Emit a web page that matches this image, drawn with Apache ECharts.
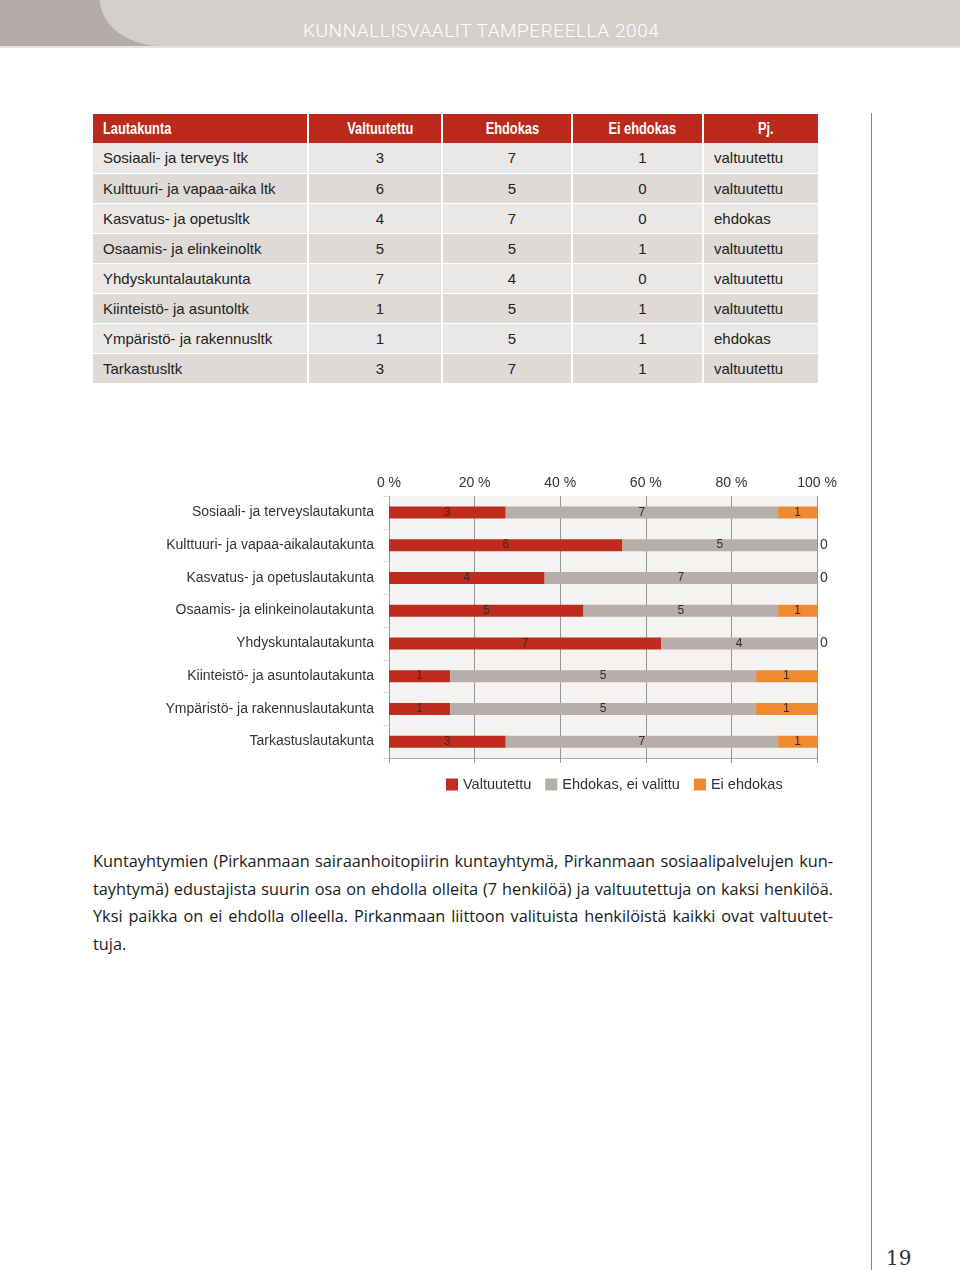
<!DOCTYPE html>
<html>
<head>
<meta charset="utf-8">
<script src="https://cdn.jsdelivr.net/npm/echarts@6/dist/echarts.min.js"></script>
<style>
  html, body { margin: 0; padding: 0; background: #fff; }
  body { width: 960px; height: 1270px; position: relative; overflow: hidden; font-family: "Liberation Sans", Arial, sans-serif; }
  #hdr { position: absolute; left: 0; top: 0; width: 960px; height: 46px; background: #b4aca8; }
  #hdr .light { position: absolute; left: 100px; right: 0; top: 0; height: 46px; background: #d3cfcc; border-bottom-left-radius: 62px 46px; }
  #hdr .line { position: absolute; left: 0; right: 0; top: 46px; height: 2px; background: #e6e3e1; }
  #title { position: absolute; left: 303px; top: 19px; color: #fff; font-family: Roboto, sans-serif; font-weight: 300; font-size: 19px; letter-spacing: 0.55px; white-space: nowrap; }
  #tbl { position: absolute; left: 93px; top: 114px; border-collapse: collapse; table-layout: fixed; }
  #tbl td, #tbl th { padding: 0; height: 30px; font-size: 15px; color: #222; border: 1px solid #fff; border-width: 0 2px 1px 0; box-sizing: border-box; }
  #tbl th { background: #bb2a1d; color: #fff; height: 29px; font-weight: bold; font-size: 16px; border-width: 0 2px 0 0; }
  #tbl th span { display: inline-block; transform: scaleX(0.8); }
  #tbl th.name span { transform-origin: left center; }
  #tbl th.pjh span { transform-origin: right center; }
  #tbl tr.odd td { background: #eae8e6; }
  #tbl tr.even td { background: #dddad7; }
  #tbl .name { text-align: left; padding-left: 10px; }
  #tbl .num { text-align: center; padding-left: 10px; }
  #tbl .pj { text-align: left; padding-left: 10px; }
  #tbl th.pjh { text-align: right; padding-right: 44px; }
  #chart { position: absolute; left: 0; top: 460px; width: 960px; height: 350px; }
  #para { position: absolute; left: 93px; top: 848px; width: 740px; font-family: "Open Sans", "Noto Sans", sans-serif; font-size: 16.3px; line-height: 27.5px; color: #1a1a1a; }
  #para div { white-space: nowrap; text-align: justify; text-align-last: justify; }
  #para div.last { text-align-last: left; }
  #vline { position: absolute; left: 871px; top: 113px; width: 1px; height: 1157px; background: #d8625a; }
  #pnum { position: absolute; left: 886px; top: 1246px; font-family: "DejaVu Serif", "Liberation Serif", serif; font-size: 20px; color: #333; }
</style>
</head>
<body>
<div id="hdr"><div class="light"></div><div class="line"></div></div>
<div id="title">KUNNALLISVAALIT TAMPEREELLA 2004</div>
<table id="tbl"></table>
<div id="chart"></div>
<div id="para">
  <div>Kuntayhtymien (Pirkanmaan sairaanhoitopiirin kuntayhtymä, Pirkanmaan sosiaalipalvelujen kun-</div>
  <div>tayhtymä) edustajista suurin osa on ehdolla olleita (7 henkilöä) ja valtuutettuja on kaksi henkilöä.</div>
  <div>Yksi paikka on ei ehdolla olleella. Pirkanmaan liittoon valituista henkilöistä kaikki ovat valtuutet-</div>
  <div class="last">tuja.</div>
</div>
<div id="vline"></div>
<div id="pnum">19</div>
<script>
// ---- data ----
const tableHeaders = ['Lautakunta', 'Valtuutettu', 'Ehdokas', 'Ei ehdokas', 'Pj.'];
const tableNames = ['Sosiaali- ja terveys ltk', 'Kulttuuri- ja vapaa-aika ltk', 'Kasvatus- ja opetusltk', 'Osaamis- ja elinkeinoltk', 'Yhdyskuntalautakunta', 'Kiinteistö- ja asuntoltk', 'Ympäristö- ja rakennusltk', 'Tarkastusltk'];
const categories = ['Sosiaali- ja terveyslautakunta', 'Kulttuuri- ja vapaa-aikalautakunta', 'Kasvatus- ja opetuslautakunta', 'Osaamis- ja elinkeinolautakunta', 'Yhdyskuntalautakunta', 'Kiinteistö- ja asuntolautakunta', 'Ympäristö- ja rakennuslautakunta', 'Tarkastuslautakunta'];
const valtuutettu = [3, 6, 4, 5, 7, 1, 1, 3];
const ehdokas = [7, 5, 7, 5, 4, 5, 5, 7];
const eiEhdokas = [1, 0, 0, 1, 0, 1, 1, 1];
const pj = ['valtuutettu', 'valtuutettu', 'ehdokas', 'valtuutettu', 'valtuutettu', 'valtuutettu', 'ehdokas', 'valtuutettu'];
const seriesNames = ['Valtuutettu', 'Ehdokas, ei valittu', 'Ei ehdokas'];

// ---- table ----
const colWidths = [215, 134, 130, 131, 116];
const tbl = document.getElementById('tbl');
let html = '<colgroup>' + colWidths.map(w => '<col style="width:' + w + 'px">').join('') + '</colgroup>';
html += '<tr>' + tableHeaders.map((h, i) => {
  const cls = i === 0 ? 'name' : (i === 4 ? 'pjh' : 'num');
  return '<th class="' + cls + '"><span>' + h + '</span></th>';
}).join('') + '</tr>';
tableNames.forEach((n, i) => {
  html += '<tr class="' + (i % 2 === 0 ? 'odd' : 'even') + '">' +
    '<td class="name">' + n + '</td>' +
    '<td class="num">' + valtuutettu[i] + '</td>' +
    '<td class="num">' + ehdokas[i] + '</td>' +
    '<td class="num">' + eiEhdokas[i] + '</td>' +
    '<td class="pj">' + pj[i] + '</td></tr>';
});
tbl.innerHTML = html;

// ---- chart ----
const counts = [valtuutettu, ehdokas, eiEhdokas];
const totals = categories.map((c, i) => valtuutettu[i] + ehdokas[i] + eiEhdokas[i]);
const colors = ['#bf2b1c', '#b6aeaa', '#ee8a2f'];

const chart = echarts.init(document.getElementById('chart'), null, { renderer: 'canvas' });
const series = counts.map((arr, s) => ({
  name: seriesNames[s],
  type: 'bar',
  stack: 'total',
  barWidth: 12,
  itemStyle: { color: colors[s] },
  label: {
    show: true,
    position: 'inside',
    color: '#3b2b26',
    fontSize: 12,
    fontFamily: 'Liberation Sans',
    formatter: p => String(arr[p.dataIndex])
  },
  data: arr.map((v, i) => {
    const pct = v / totals[i] * 100;
    if (v === 0) {
      return { value: pct, label: { position: 'right', distance: 3, fontSize: 14, color: '#333' } };
    }
    return pct;
  })
}));

chart.setOption({
  animation: false,
  textStyle: { fontFamily: 'Liberation Sans' },
  legend: {
    data: seriesNames,
    left: 441,
    top: 312,
    icon: 'rect',
    itemWidth: 12,
    itemHeight: 12,
    itemGap: 14,
    textStyle: { fontSize: 14.5, color: '#333', fontFamily: 'Liberation Sans' }
  },
  grid: {
    left: 389, right: 143, top: 36, height: 262,
    show: true, backgroundColor: '#f4f3f2', borderWidth: 0
  },
  xAxis: [{
    type: 'value', position: 'top', min: 0, max: 100, interval: 20,
    axisLabel: { formatter: v => v + ' %', fontSize: 14, color: '#333', margin: 6 },
    axisLine: { show: false }, axisTick: { show: false },
    splitLine: { show: true, lineStyle: { color: '#949494', width: 1 } }
  }, {
    type: 'value', position: 'bottom', min: 0, max: 100, interval: 20,
    axisLabel: { show: false },
    axisLine: { show: true, lineStyle: { color: '#aaa' } },
    axisTick: { show: true, length: 5, lineStyle: { color: '#949494' } },
    splitLine: { show: false }
  }],
  yAxis: {
    type: 'category', inverse: true, data: categories,
    axisLine: { show: true, lineStyle: { color: '#999' } },
    axisTick: { show: true, length: 6, lineStyle: { color: '#ddd' } },
    axisLabel: { fontSize: 14, color: '#333', margin: 15 }
  },
  series: series
});
</script>
</body>
</html>
